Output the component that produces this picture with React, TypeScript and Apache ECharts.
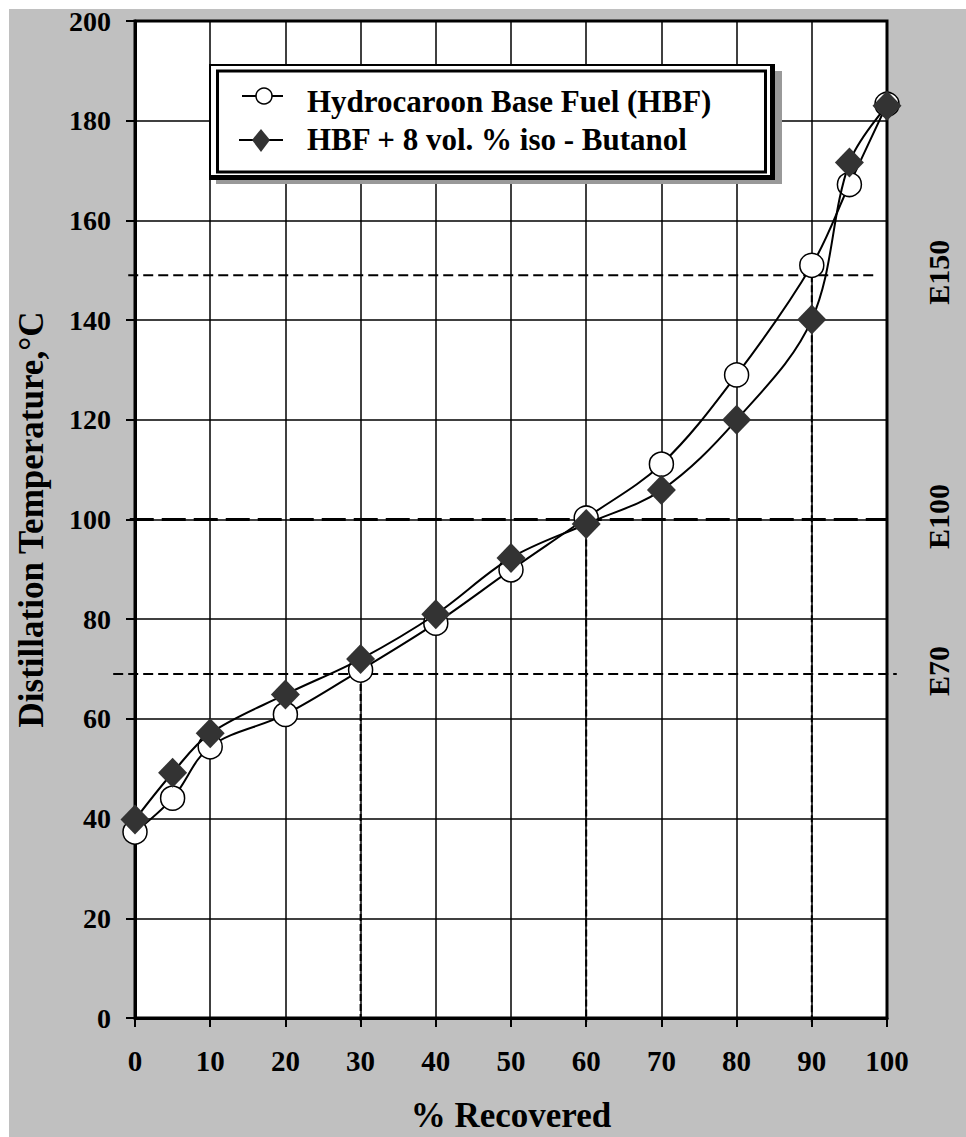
import React, { useEffect, useRef } from "react";
import * as echarts from "echarts";

// ---- data ----
const recovered = [0, 5, 10, 20, 30, 40, 50, 60, 70, 80, 90, 95, 100];
const hbf = [37.3, 44.1, 54.4, 60.9, 69.8, 79.2, 89.9, 100.3, 111.1, 129, 151, 167.2, 183.3];
const butanol = [39.8, 49.2, 57.1, 64.9, 72, 81, 92.3, 99.1, 105.9, 120, 140.1, 171.6, 183];
const seriesNames = ["Hydrocaroon Base Fuel (HBF)", "HBF + 8 vol. % iso - Butanol"];
const eLabels = ["E150", "E100", "E70"];
const eLevels = [149, 100, 69];
const eRecovered = [90, 60, 30];

const FONT = "'Liberation Serif', 'Times New Roman', serif";
const O = 9; // offset of the grey panel inside the chart canvas

export default function App() {
  const ref = useRef<HTMLDivElement>(null);

  useEffect(() => {
    const chart = echarts.init(ref.current as HTMLDivElement, null, { renderer: "svg" });
    const axisCommon = {
      type: "value",
      axisLine: { show: true, lineStyle: { color: "#000", width: 3 } },
      axisTick: { show: true, inside: false, length: 9, lineStyle: { color: "#000", width: 2 } },
      splitLine: { show: true, lineStyle: { color: "#000", width: 1.5 } },
      axisLabel: { color: "#000", fontFamily: FONT, fontWeight: "bold", fontSize: 28, margin: 24 },
      nameLocation: "middle",
      nameTextStyle: { color: "#000", fontFamily: FONT, fontWeight: "bold", fontSize: 35 },
    };
    chart.setOption({
      animation: false,
      backgroundColor: "transparent",
      grid: {
        left: 135,
        top: 21,
        right: 79,
        bottom: 119,
        containLabel: false,
        outerBoundsMode: "none",
        show: true,
        backgroundColor: "#fff",
        borderColor: "#000",
        borderWidth: 3,
      },
      xAxis: {
        ...axisCommon,
        axisLabel: { ...axisCommon.axisLabel, fontSize: 29, margin: 28 },
        min: 0,
        max: 100,
        interval: 10,
        name: "% Recovered",
        nameGap: 80,
      },
      yAxis: {
        ...axisCommon,
        axisLabel: { ...axisCommon.axisLabel, padding: [4, 0, 0, 0] },
        min: 0,
        max: 200,
        interval: 20,
        name: "Distillation Temperature,°C",
        nameGap: 86,
      },
      series: [
        {
          name: seriesNames[0],
          type: "line",
          smooth: 0.35,
          clip: false,
          symbol: "circle",
          symbolSize: 24,
          itemStyle: { color: "#fff", borderColor: "#000", borderWidth: 1.5 },
          lineStyle: { color: "#000", width: 2 },
          data: recovered.map((x, i) => [x, hbf[i]]),
          z: 3,
        },
        {
          name: seriesNames[1],
          type: "line",
          smooth: 0.35,
          clip: false,
          symbol: "diamond",
          symbolSize: [29, 30],
          itemStyle: { color: "#333", borderWidth: 0 },
          lineStyle: { color: "#000", width: 2 },
          data: recovered.map((x, i) => [x, butanol[i]]),
          z: 4,
        },
      ],
    });

    const px = (x: number, y: number) => chart.convertToPixel({ gridIndex: 0 }, [x, y]) as number[];
    const graphics: any[] = [];
    // horizontal reference lines
    const hExtents = [
      [-0.9, 98.8],
      [-0.7, 100],
      [-2.9, 101.3],
    ];
    eLevels.forEach((lvl, i) => {
      const a = px(hExtents[i][0], lvl);
      const b = px(hExtents[i][1], lvl);
      const thick = i === 1;
      graphics.push({
        type: "line",
        z: 1,
        shape: { x1: a[0], y1: a[1], x2: b[0], y2: b[1] },
        style: { stroke: "#000", lineWidth: thick ? 3 : 2, lineDash: thick ? [24, 8] : [10, 5] },
      });
      // vertical drop line
      const t = px(eRecovered[i], lvl);
      const bt = px(eRecovered[i], -0.8);
      graphics.push({
        type: "line",
        z: 1,
        shape: { x1: t[0], y1: t[1], x2: bt[0], y2: bt[1] },
        style: { stroke: "#000", lineWidth: 2, lineDash: [7, 3] },
      });
      // right-side label
      const lp = px(100, lvl);
      graphics.push({
        type: "text",
        z: 5,
        x: lp[0] + 51,
        y: lp[1] - 3,
        rotation: Math.PI / 2,
        style: {
          text: eLabels[i],
          fill: "#000",
          font: `bold 30px ${FONT}`,
          align: "center",
          verticalAlign: "middle",
        },
      });
    });

    // legend box
    graphics.push(
      { type: "rect", z: 10, shape: { x: O + 207, y: O + 62, width: 566, height: 113 }, style: { fill: "#999" } },
      { type: "rect", z: 11, shape: { x: O + 200, y: O + 55, width: 566, height: 116 }, style: { fill: "#000" } },
      { type: "rect", z: 12, shape: { x: O + 202, y: O + 57, width: 559, height: 109 }, style: { fill: "#fff" } },
      {
        type: "rect",
        z: 13,
        shape: { x: O + 208.5, y: O + 62, width: 548, height: 101 },
        style: { fill: "#fff", stroke: "#000", lineWidth: 3 },
      },
      { type: "line", z: 14, shape: { x1: O + 233, y1: O + 87, x2: O + 274, y2: O + 87 }, style: { stroke: "#000", lineWidth: 2 } },
      {
        type: "circle",
        z: 15,
        shape: { cx: O + 255, cy: O + 87, r: 8 },
        style: { fill: "#fff", stroke: "#000", lineWidth: 1.5 },
      },
      { type: "line", z: 14, shape: { x1: O + 230, y1: O + 131, x2: O + 274, y2: O + 131 }, style: { stroke: "#000", lineWidth: 2 } },
      {
        type: "polygon",
        z: 15,
        shape: { points: [[O + 252, O + 120], [O + 261, O + 131], [O + 252, O + 143], [O + 243, O + 131]] },
        style: { fill: "#333" },
      },
      {
        type: "text",
        z: 15,
        x: O + 298,
        y: O + 92,
        style: { text: seriesNames[0], fill: "#000", font: `bold 31px ${FONT}`, verticalAlign: "middle" },
      },
      {
        type: "text",
        z: 15,
        x: O + 298,
        y: O + 130,
        style: { text: seriesNames[1], fill: "#000", font: `bold 31px ${FONT}`, verticalAlign: "middle" },
      }
    );

    chart.setOption({ graphic: graphics });
    return () => chart.dispose();
  }, []);

  return (
    <div style={{ position: "absolute", left: 0, top: 0, width: 966, height: 1137, background: "#fff" }}>
      <div style={{ position: "absolute", left: O, top: O, right: 0, bottom: 0, background: "#c0c0c0" }} />
      <div ref={ref} style={{ position: "absolute", left: 0, top: 0, width: 966, height: 1137 }} />
    </div>
  );
}
